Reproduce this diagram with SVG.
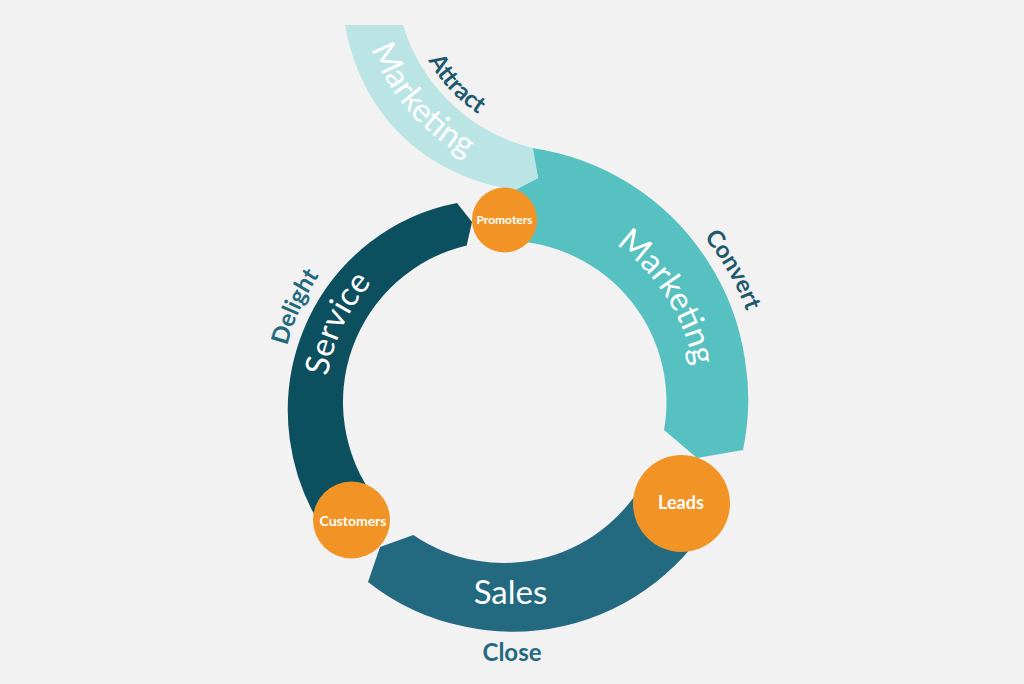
<svg xmlns="http://www.w3.org/2000/svg" width="1024" height="684" viewBox="0 0 1024 684">
<style>
.band-label{font-family:Lato,"Open Sans","Liberation Sans",sans-serif;font-size:33px;font-weight:400;fill:#ffffff}
.stage{font-family:Lato,"Open Sans","Liberation Sans",sans-serif;font-size:24px;font-weight:700}
.stage-a{fill:#1e596e}
.stage-b{fill:#236a81}
.node-label{font-family:Lato,"Open Sans","Liberation Sans",sans-serif;font-weight:700;fill:#ffffff;text-anchor:middle}
.dot{fill:#f29425}
</style>
<defs>
<path id="pAttM" d="M365,27 C380,94 438,161 522,177"/>
<path id="pAtt" d="M412,22 C427,72 463,121 536,139"/>
<path id="pConvM" d="M504,209 A193,193 0 0 1 671.1,498.5"/>
<path id="pConv" d="M504,143 A259,259 0 0 1 728.3,531.5"/>
<path id="pServ" d="M349.8,491 A178,178 0 0 1 504,224"/>
<path id="pDel" d="M310,514 A224,224 0 0 1 504,178"/>
</defs>
<rect width="1024" height="684" fill="#f2f2f2"/>

<g id="stage-convert">
<path d="M532,148 A254,254 0 0 1 630,184 A250,250 0 0 1 707,260 A246,246 0 0 1 745,360 A244,244 0 0 1 743,450 L697,458 L664,430 A161,161 0 0 0 495.6,241.2 L515,190 L538,178 Z" fill="#56c1c0"/>
<text class="band-label"><textPath href="#pConvM" startOffset="47.75%" text-anchor="middle">Marketing</textPath></text>
<text class="stage stage-a"><textPath href="#pConv" startOffset="50%" text-anchor="middle">Convert</textPath></text>
</g>

<g id="stage-attract">
<path d="M345,25 L403,25 C418,75 460,130 533,148 L538,178 L515,190 C420,175 360,110 345,25 Z" fill="#bae5e4"/>
<text class="band-label"><textPath href="#pAttM" startOffset="42%" text-anchor="middle">Marketing</textPath></text>
<text class="stage stage-a"><textPath href="#pAtt" startOffset="44%" text-anchor="middle">Attract</textPath></text>
</g>

<g id="stage-close">
<path d="M722.7,499.4 A238,238 0 0 1 655.4,582.4 A234,234 0 0 1 564,625.9 A230,230 0 0 1 464.4,626.5 A226,226 0 0 1 368,582 L380,547 L413.3,535 A161,161 0 0 0 649.9,470 L677.2,502 Z" fill="#236a81"/>
<text class="band-label" x="510.5" y="604" text-anchor="middle">Sales</text>
<text class="stage stage-b" x="512" y="661" text-anchor="middle">Close</text>
</g>

<g id="stage-delight">
<path d="M327.1,535.3 A219,219 0 0 1 289.8,439.8 A215,215 0 0 1 303.8,329.2 A211,211 0 0 1 370,242.3 A206,206 0 0 1 457,203 L472,222 L466.7,245.4 A161,161 0 0 0 375.4,498.9 L340.3,504.3 Z" fill="#0c4f5e"/>
<text class="band-label"><textPath href="#pServ" startOffset="46%" text-anchor="middle">Service</textPath></text>
<text class="stage stage-b"><textPath href="#pDel" startOffset="45.4%" text-anchor="middle">Delight</textPath></text>
</g>

<g id="node-promoters">
<circle class="dot" cx="504.5" cy="220" r="32.5"/>
<text class="node-label" x="504.5" y="224" font-size="12">Promoters</text>
</g>

<g id="node-customers">
<circle class="dot" cx="351.5" cy="520" r="38.5"/>
<text class="node-label" x="353" y="526" font-size="14">Customers</text>
</g>

<g id="node-leads">
<circle class="dot" cx="681.5" cy="503.5" r="48.5"/>
<text class="node-label" x="681" y="509" font-size="18">Leads</text>
</g>
</svg>
